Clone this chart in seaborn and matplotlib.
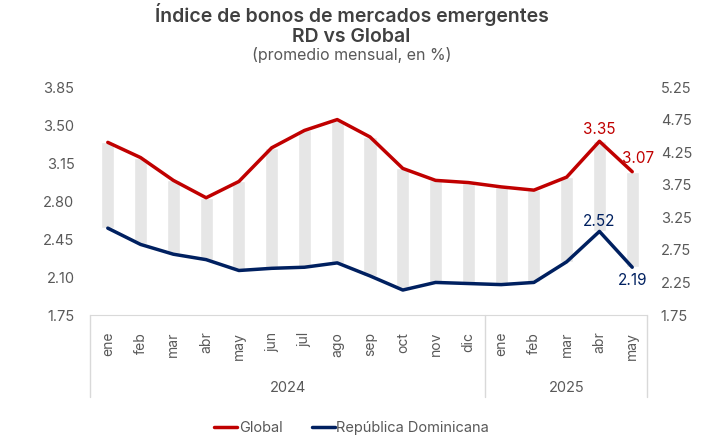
import numpy as np
import pandas as pd
import matplotlib
matplotlib.use("Agg")
import matplotlib.pyplot as plt
import seaborn as sns
from matplotlib.lines import Line2D

# Datos (promedio mensual, en %)
meses = ['ene', 'feb', 'mar', 'abr', 'may', 'jun', 'jul', 'ago', 'sep', 'oct', 'nov', 'dic',
         'ene', 'feb', 'mar', 'abr', 'may']
anios = ['2024'] * 12 + ['2025'] * 5
global_idx = [3.34, 3.20, 2.99, 2.83, 2.98, 3.29, 3.45, 3.55, 3.39, 3.10, 2.99, 2.97,
              2.93, 2.90, 3.02, 3.35, 3.07]
rd_idx = [2.55, 2.40, 2.31, 2.26, 2.16, 2.18, 2.19, 2.23, 2.11, 1.98, 2.05, 2.04,
          2.03, 2.05, 2.24, 2.52, 2.19]

ROJO = '#c00000'
AZUL = '#002060'
GRIS = '#595959'

df = pd.DataFrame({'pos': np.arange(len(meses)), 'mes': meses, 'anio': anios,
                   'Global': global_idx, 'República Dominicana': rd_idx})
largo = df.melt(id_vars=['pos'], value_vars=['Global', 'República Dominicana'],
                var_name='serie', value_name='valor')

sns.set_style("white")
plt.rcParams['font.family'] = ['Inter', 'DejaVu Sans']

fig = plt.figure(figsize=(7.03, 4.41), dpi=100)
ax = fig.add_axes([0.1277, 0.2857, 0.7926, 0.517])

# barras flotantes entre las dos series
ax.bar(df['pos'], df['Global'] - df['República Dominicana'], bottom=df['República Dominicana'],
       width=0.4, color='#e6e6e6', zorder=1)

sns.lineplot(data=largo, x='pos', y='valor', hue='serie',
             palette={'Global': ROJO, 'República Dominicana': AZUL},
             linewidth=2.5, ax=ax, legend=False, zorder=3)

ax.set_ylim(1.75, 3.85)
ax.set_yticks(np.arange(1.75, 3.86, 0.35))
ax.set_yticklabels([f'{v:.2f}' for v in np.arange(1.75, 3.86, 0.35)])
ax.set_xlim(-0.55, 16.45)
ax.set_xticks(df['pos'])
ax.set_xticklabels(meses, rotation=90)
ax.tick_params(axis='x', length=0, pad=12, labelsize=10, labelcolor=GRIS)
ax.tick_params(axis='y', length=0, pad=11, labelsize=10.5, labelcolor=GRIS)
ax.set_xlabel('')
ax.set_ylabel('')
for s in ['left', 'right', 'top']:
    ax.spines[s].set_visible(False)
ax.spines['bottom'].set_color('#d9d9d9')

# eje derecho
ax2 = ax.twinx()
ax2.set_ylim(1.75, 5.25)
ax2.set_yticks(np.arange(1.75, 5.26, 0.5))
ax2.set_yticklabels([f'{v:.2f}' for v in np.arange(1.75, 5.26, 0.5)])
ax2.tick_params(axis='y', length=0, pad=10, labelsize=10.5, labelcolor=GRIS)
for s in ['left', 'right', 'top', 'bottom']:
    ax2.spines[s].set_visible(False)
ax2.grid(False)

# caja de categorias (meses / anios)
trans = ax.get_xaxis_transform()
for xv in [-0.55, 11.5, 16.45]:
    ax.add_line(Line2D([xv, xv], [0, -0.36], transform=trans, color='#d9d9d9',
                       linewidth=1, clip_on=False))
grupos = df.groupby('anio')['pos'].mean()
for anio, xm in grupos.items():
    ax.text(xm, -0.32, anio, transform=trans, ha='center', va='center',
            fontsize=10.5, color=GRIS)

# etiquetas de datos
ult = len(meses) - 1
ax.annotate(f'{global_idx[ult-1]:.2f}', (ult - 1, global_idx[ult-1]), xytext=(0, 3),
            textcoords='offset points', ha='center', va='bottom', color=ROJO, fontsize=11)
ax.annotate(f'{global_idx[ult]:.2f}', (ult, global_idx[ult]), xytext=(4, 4),
            textcoords='offset points', ha='center', va='bottom', color=ROJO, fontsize=11)
ax.annotate(f'{rd_idx[ult-1]:.2f}', (ult - 1, rd_idx[ult-1]), xytext=(0, 2),
            textcoords='offset points', ha='center', va='bottom', color=AZUL, fontsize=11)
ax.annotate(f'{rd_idx[ult]:.2f}', (ult, rd_idx[ult]), xytext=(0, -4),
            textcoords='offset points', ha='center', va='top', color=AZUL, fontsize=11)

# titulos
fig.text(0.5, 0.966, 'Índice de bonos de mercados emergentes', ha='center', va='center',
         fontsize=14, fontweight='semibold', color='#404040')
fig.text(0.5, 0.916, 'RD vs Global', ha='center', va='center',
         fontsize=14, fontweight='semibold', color='#404040')
fig.text(0.5, 0.875, '(promedio mensual, en %)', ha='center', va='center',
         fontsize=11.5, color=GRIS)

# leyenda
handles = [Line2D([0], [0], color=ROJO, linewidth=2.5),
           Line2D([0], [0], color=AZUL, linewidth=2.5)]
fig.legend(handles, ['Global', 'República Dominicana'], loc='center',
           bbox_to_anchor=(0.5, 0.03), ncol=2, frameon=False, fontsize=10.5,
           handlelength=1.6, handletextpad=0.1, columnspacing=2.0, labelcolor=GRIS)

fig.savefig('out.png', dpi=100)
